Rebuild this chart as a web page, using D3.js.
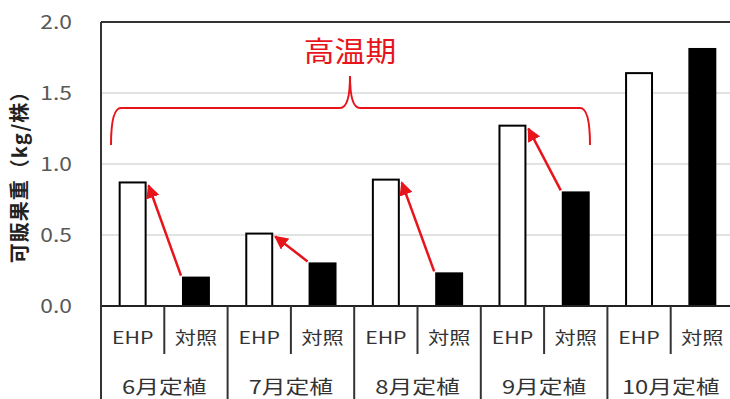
<!DOCTYPE html>
<html>
<head>
<meta charset="utf-8">
<script src="https://cdn.jsdelivr.net/npm/d3@7"></script>
<style>
  body { margin: 0; background: #fff; }
  text { font-family: "Noto Sans CJK JP", "Noto Sans", sans-serif; }
</style>
</head>
<body>
<div id="chart"></div>
<script>
"use strict";

// values
var months = ['6月定植', '7月定植', '8月定植', '9月定植', '10月定植'];
var series = ['EHP', '対照'];
var ehpValues = [0.87, 0.51, 0.89, 1.27, 1.64];
var controlValues = [0.20, 0.30, 0.23, 0.80, 1.81];
var yTicks = [0, 0.5, 1.0, 1.5, 2.0];
// arrows go from control bar to EHP bar in these months
var arrowMonths = ['6月定植', '7月定植', '8月定植', '9月定植'];

var W = 730, H = 399;
var plotLeft = 101, plotRight = 734, plotTop = 22, plotBottom = 306;
var RED = '#e8141b';

var svg = d3.select('#chart').append('svg')
  .attr('width', W).attr('height', H);

var x0 = d3.scaleBand().domain(months).range([plotLeft, plotRight]).padding(0);
var x1 = d3.scaleBand().domain(series).range([0, x0.bandwidth()])
  .paddingInner(0.59).paddingOuter(0.295);
var y = d3.scaleLinear().domain([0, 2]).range([plotBottom, plotTop]);

var rows = months.map(function(m, i) {
  return { month: m, EHP: ehpValues[i], '対照': controlValues[i] };
});

// the source picture is a bit wide, so text gets stretched sideways
function place(x, yy, sx) {
  return 'translate(' + x + ',' + yy + ') scale(' + sx + ',1)';
}

// gridlines
svg.append('g').selectAll('line').data(yTicks.filter(function(t) { return t > 0 && t < 2; }))
  .enter().append('line')
  .attr('x1', plotLeft).attr('x2', plotRight)
  .attr('y1', function(d) { return y(d); }).attr('y2', function(d) { return y(d); })
  .attr('stroke', '#d9d9d9').attr('stroke-width', 1.5);

// top border
svg.append('line')
  .attr('x1', plotLeft).attr('x2', plotRight)
  .attr('y1', y(2)).attr('y2', y(2))
  .attr('stroke', '#333').attr('stroke-width', 2);

// y tick labels
svg.append('g').selectAll('text').data(yTicks).enter().append('text')
  .attr('transform', function(d) { return place(72, y(d), 1.2); })
  .attr('dy', '0.35em').attr('text-anchor', 'end')
  .attr('font-size', 19).attr('fill', '#595959')
  .text(function(d) { return d3.format('.1f')(d); });

// y axis title
svg.append('text')
  .attr('transform', 'translate(20,172) rotate(-90)')
  .attr('text-anchor', 'middle').attr('dy', '0.35em')
  .attr('font-size', 20).attr('font-weight', 'bold').attr('fill', '#222')
  .attr('letter-spacing', 1)
  .text('可販果重（kg/株）');

// bars
var groups = svg.append('g').selectAll('g').data(rows).enter().append('g')
  .attr('transform', function(d) { return 'translate(' + x0(d.month) + ',0)'; });

groups.selectAll('rect').data(function(d) {
  return series.map(function(s) { return { key: s, value: d[s] }; });
}).enter().append('rect')
  .attr('x', function(d) { return x1(d.key); })
  .attr('y', function(d) { return y(d.value); })
  .attr('width', x1.bandwidth())
  .attr('height', function(d) { return y(0) - y(d.value); })
  .attr('fill', function(d) { return d.key === 'EHP' ? '#fff' : '#000'; })
  .attr('stroke', '#000').attr('stroke-width', 2);

// category axis: baseline, dividers and labels
svg.append('line')
  .attr('x1', plotLeft).attr('x2', plotRight)
  .attr('y1', y(0)).attr('y2', y(0))
  .attr('stroke', '#222').attr('stroke-width', 2);

svg.append('line')
  .attr('x1', plotLeft).attr('x2', plotLeft)
  .attr('y1', plotTop).attr('y2', H)
  .attr('stroke', '#333').attr('stroke-width', 2);

svg.append('g').selectAll('line').data(months.slice(1)).enter().append('line')
  .attr('x1', function(d) { return x0(d); }).attr('x2', function(d) { return x0(d); })
  .attr('y1', y(0)).attr('y2', H)
  .attr('stroke', '#333').attr('stroke-width', 2);

svg.append('g').selectAll('line').data(months).enter().append('line')
  .attr('x1', function(d) { return x0(d) + x0.bandwidth() / 2; })
  .attr('x2', function(d) { return x0(d) + x0.bandwidth() / 2; })
  .attr('y1', y(0)).attr('y2', 354)
  .attr('stroke', '#333').attr('stroke-width', 2);

groups.selectAll('text.ser').data(series).enter().append('text')
  .attr('class', 'ser')
  .attr('transform', function(d) { return place(x1(d) + x1.bandwidth() / 2, 338, 1.25); })
  .attr('dy', '0.35em').attr('text-anchor', 'middle')
  .attr('font-size', 17).attr('fill', '#333')
  .text(function(d) { return d; });

groups.append('text')
  .attr('transform', place(x0.bandwidth() / 2, 387, 1.25))
  .attr('dy', '0.35em')
  .attr('text-anchor', 'middle').attr('font-size', 19).attr('fill', '#333')
  .text(function(d) { return d.month; });

// arrows (control -> EHP)
var defs = svg.append('defs');
defs.append('marker').attr('id', 'arrowhead')
  .attr('viewBox', '0 0 10 10').attr('refX', 9).attr('refY', 5)
  .attr('markerWidth', 5.5).attr('markerHeight', 5.5)
  .attr('orient', 'auto')
  .append('path').attr('d', 'M0,0 L10,5 L0,10 z').attr('fill', RED);

svg.append('g').selectAll('line').data(rows.filter(function(d) { return arrowMonths.indexOf(d.month) >= 0; }))
  .enter().append('line')
  .attr('x1', function(d) { return x0(d.month) + x1('対照') - 2; })
  .attr('y1', function(d) { return y(d['対照']) - 2; })
  .attr('x2', function(d) { return x0(d.month) + x1('EHP') + x1.bandwidth() + 3; })
  .attr('y2', function(d) { return y(d.EHP) + 3; })
  .attr('stroke', RED).attr('stroke-width', 2.5)
  .attr('marker-end', 'url(#arrowhead)');

// 高温期 bracket
var bx0 = 111, bx1 = 590, bmid = 350, bTop = 108, bEnd = 145, bPeak = 76;
svg.append('path')
  .attr('d', 'M' + bx0 + ',' + bEnd +
    ' Q' + bx0 + ',' + bTop + ' ' + (bx0 + 10) + ',' + bTop +
    ' L' + (bmid - 10) + ',' + bTop +
    ' Q' + bmid + ',' + bTop + ' ' + bmid + ',' + bPeak +
    ' Q' + bmid + ',' + bTop + ' ' + (bmid + 10) + ',' + bTop +
    ' L' + (bx1 - 10) + ',' + bTop +
    ' Q' + bx1 + ',' + bTop + ' ' + bx1 + ',' + bEnd)
  .attr('fill', 'none').attr('stroke', RED).attr('stroke-width', 2);

svg.append('text')
  .attr('transform', place(bmid, 52, 1.1))
  .attr('dy', '0.35em')
  .attr('text-anchor', 'middle').attr('font-size', 28)
  .attr('fill', RED)
  .text('高温期');
</script>
</body>
</html>
